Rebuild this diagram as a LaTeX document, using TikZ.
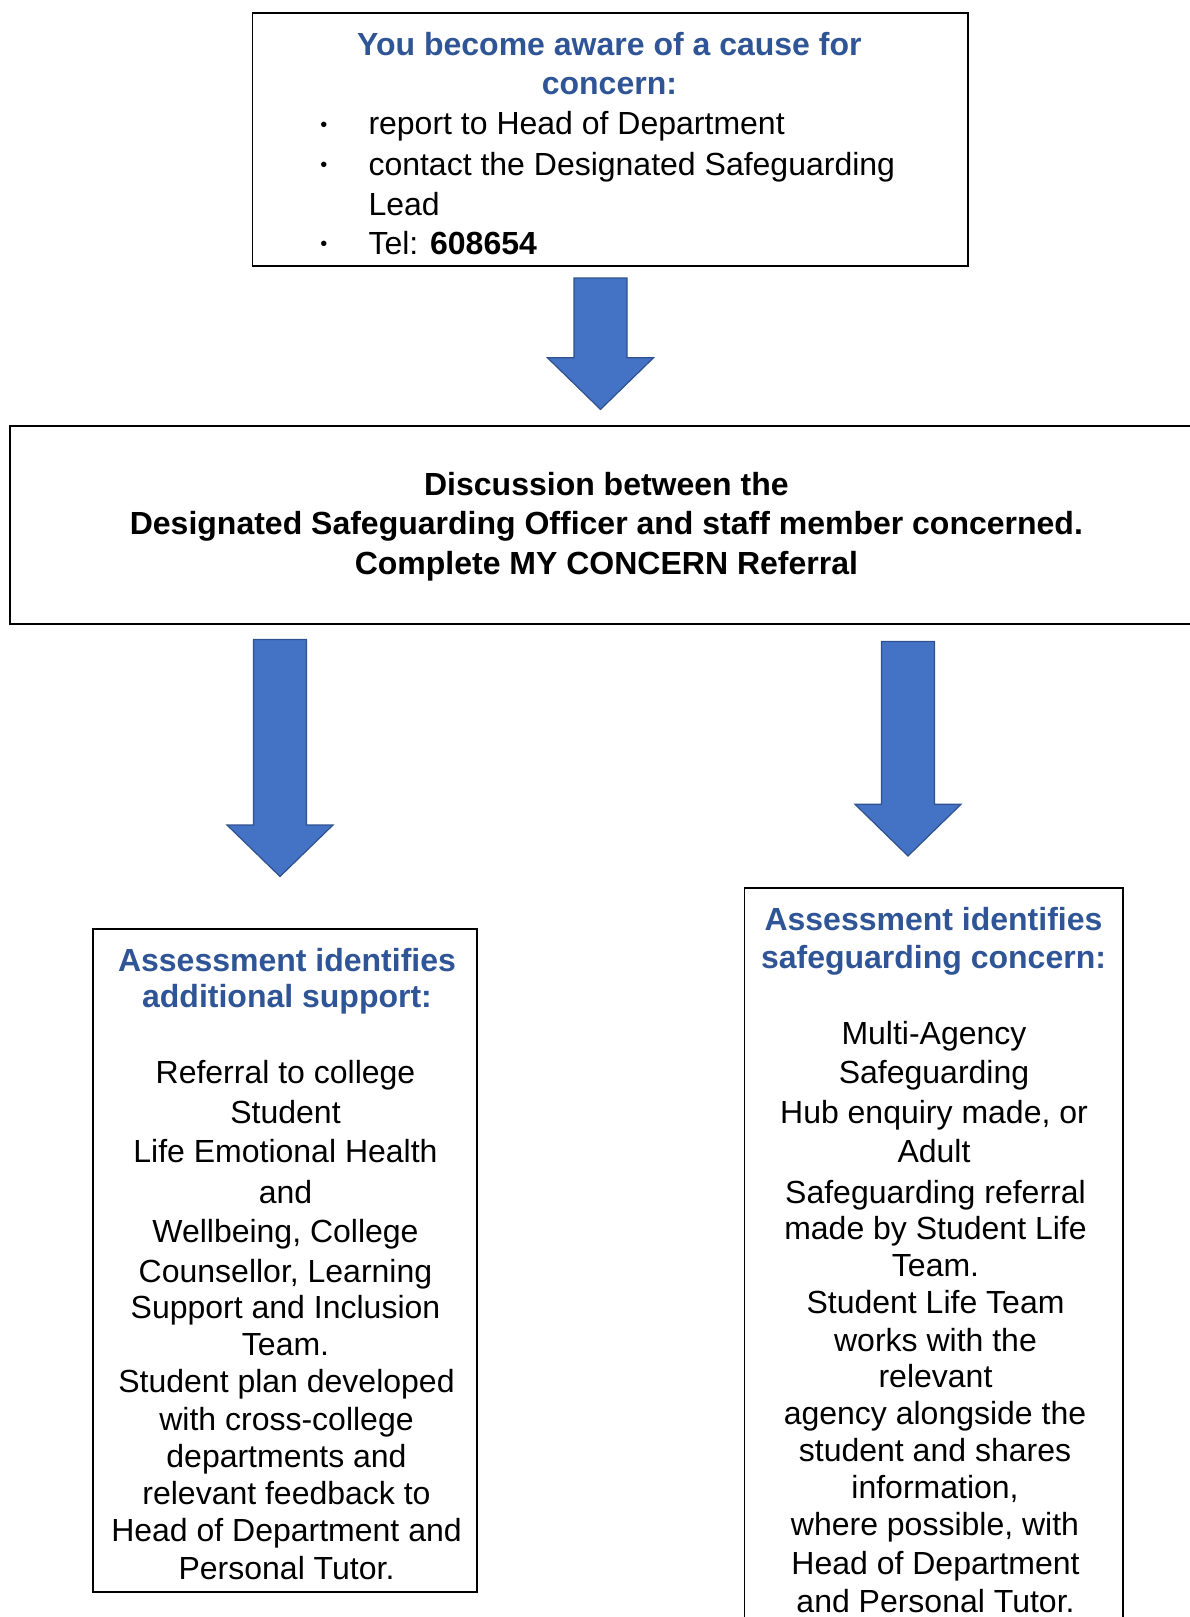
\documentclass[tikz,border=0pt]{standalone}
\usepackage{fontspec}
\setmainfont{Liberation Sans}
\definecolor{headblue}{HTML}{2F5597}
\definecolor{arrowfill}{HTML}{4472C4}
\definecolor{arrowline}{HTML}{2F528F}
\newcommand\blockarrowpath[4]{\draw[blockarrow] (#1-26.5,#2) -- (#1+26.5,#2) -- (#1+26.5,#3) -- (#1+53,#3) -- (#1,#4) -- (#1-53,#3) -- (#1-26.5,#3) -- cycle;}
\begin{document}
\begin{tikzpicture}[x=0.5pt,y=-0.5pt,
  box/.style={draw=black, line width=0.9pt, inner sep=0pt, anchor=north west},
  txt/.style={anchor=base, inner sep=0pt, font=\fontsize{16pt}{19pt}\selectfont},
  bul/.style={anchor=center, inner sep=0pt, font=\fontsize{10pt}{12pt}\selectfont},
  bodyb/.style={txt, font=\fontsize{16pt}{19pt}\selectfont\bfseries},
  head/.style={txt, text=headblue, font=\fontsize{16pt}{19pt}\selectfont\bfseries},
  blockarrow/.style={fill=arrowfill, draw=arrowline, line width=0.6pt, line join=miter}]
\useasboundingbox (0,0) rectangle (1189,1617);
% boxes
\node[box, minimum width=357.85pt, minimum height=126.3pt] (top) at (251.6,12.4) {};
\node[box, minimum width=596.85pt, minimum height=99pt] (mid) at (9.3,424.9) {};
\node[box, minimum width=192.3pt, minimum height=331.6pt] (left) at (91.8,928) {};
\node[box, minimum width=189.25pt, minimum height=376.6pt] (right) at (743.5,886.8) {};
% arrows
\blockarrowpath{600.5}{278}{357.8}{409.4}
\blockarrowpath{280}{639.4}{825}{876.5}
\blockarrowpath{908}{641.4}{804.3}{856}
% top box text
\node[head] (t1) at (609.4,55.3) {You become aware of a cause for};
\node[head] (t2) at (609.4,94.5) {concern:};
\node[bul] (b1) at (323.8,126.5) {•};
\node[bul] (b2) at (323.8,166.5) {•};
\node[bul] (b3) at (323.8,246) {•};
\node[txt, anchor=base west] (t3) at (368.1,134.7) {report to Head of Department};
\node[txt, anchor=base west] (t4) at (368.1,175) {contact the Designated Safeguarding};
\node[txt, anchor=base west] (t5) at (368.1,215.2) {Lead};
\node[txt, anchor=base west] (t6) at (368.1,254.4) {Tel: \textbf{608654}};
% middle box text
\node[bodyb] (m1) at (606.4,495.7) {Discussion between the};
\node[bodyb] (m2) at (606.4,534.9) {Designated Safeguarding Officer and staff member concerned.};
\node[bodyb] (m3) at (606.4,574) {Complete MY CONCERN Referral};
% left box text
\node[head] (l1) at (287,971) {Assessment identifies};
\node[head] (l2) at (287,1007) {additional support:};
\node[txt] (l3) at (285.5,1083.5) {Referral to college};
\node[txt] (l4) at (285.5,1123.7) {Student};
\node[txt] (l5) at (285.5,1162.9) {Life Emotional Health};
\node[txt] (l6) at (285.5,1203) {and};
\node[txt] (l7) at (285.5,1242) {Wellbeing, College};
\node[txt] (l8) at (285.5,1282.5) {Counsellor, Learning};
\node[txt] (l9) at (285.5,1318.6) {Support and Inclusion};
\node[txt] (l10) at (285.5,1355.7) {Team.};
\node[txt] (l11) at (286.5,1392.8) {Student plan developed};
\node[txt] (l12) at (286.5,1430) {with cross-college};
\node[txt] (l13) at (286.5,1467) {departments and};
\node[txt] (l14) at (286.5,1504) {relevant feedback to};
\node[txt] (l15) at (286.5,1541) {Head of Department and};
\node[txt] (l16) at (286.5,1579.5) {Personal Tutor.};
% right box text
\node[head] (r1) at (933.5,930.8) {Assessment identifies};
\node[head] (r2) at (933.5,968) {safeguarding concern:};
\node[txt] (r3) at (934,1044.3) {Multi-Agency};
\node[txt] (r4) at (934,1083.5) {Safeguarding};
\node[txt] (r5) at (934,1123.7) {Hub enquiry made, or};
\node[txt] (r6) at (934,1162.9) {Adult};
\node[txt] (r7) at (935.5,1203) {Safeguarding referral};
\node[txt] (r8) at (935.5,1239.2) {made by Student Life};
\node[txt] (r9) at (935.5,1276.3) {Team.};
\node[txt] (r10) at (935.5,1313.4) {Student Life Team};
\node[txt] (r11) at (935.5,1351.6) {works with the};
\node[txt] (r12) at (935.5,1387.7) {relevant};
\node[txt] (r13) at (935,1424.8) {agency alongside the};
\node[txt] (r14) at (935,1461) {student and shares};
\node[txt] (r15) at (935,1498) {information,};
\node[txt] (r16) at (935,1535.1) {where possible, with};
\node[txt] (r17) at (935.5,1574.3) {Head of Department};
\node[txt] (r18) at (935.5,1612.5) {and Personal Tutor.};
\end{tikzpicture}
\end{document}
